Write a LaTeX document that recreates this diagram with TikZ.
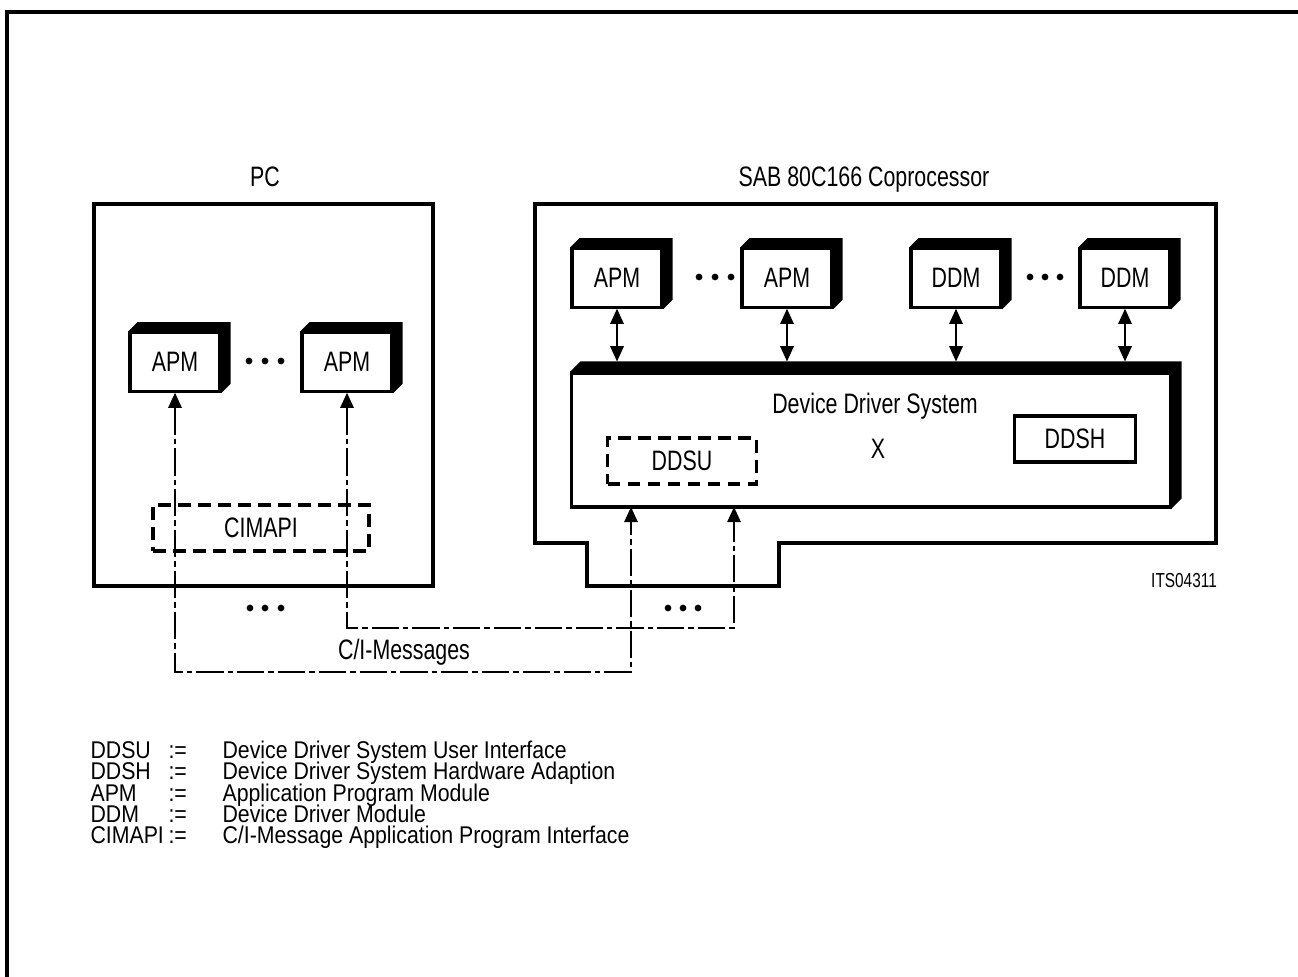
\documentclass[tikz,border=0pt]{standalone}
\usepackage{fontspec}
\setmainfont{Liberation Sans}[FakeStretch=0.76]
\newfontfamily\legendfont{Liberation Sans}[FakeStretch=0.88]
\usetikzlibrary{arrows.meta}

\begin{document}
\begin{tikzpicture}[x=0.0125cm, y=-0.0125cm,
    font=\fontsize{10}{12}\selectfont,
    thickline/.style={line width=1.1pt},
    module/.style={draw, line width=1.1pt, fill=white, inner sep=0pt,
      minimum width=1.125cm, minimum height=0.73cm},
    ifbox/.style={draw, line width=1.3pt, dash pattern=on 0.16cm off 0.09cm,
      inner sep=0pt, minimum height=0.575cm},
    tip/.style={{Triangle[length=0.19cm,width=0.17cm]}-{Triangle[length=0.19cm,width=0.17cm]}},
    link/.style={line width=0.45pt, tip},
    msg/.style={line width=0.45pt, tip,
      dash pattern=on 0.34cm off 0.05cm on 0.07cm off 0.05cm},
    legend/.style={anchor=base west, inner sep=0pt,
      font=\legendfont\fontsize{8.6}{10}\selectfont}]
    \useasboundingbox (0,0) rectangle (1298,977);
    % Rahmen (nur oben und links)
    \draw[thickline] (7,977) -- (7,12) -- (1298,12);

    % PC
    \node[anchor=base] (pctitle) at (265,187) {PC};
    \draw[thickline] (94,204) rectangle (433,586);
    \node[module] (apmA) at (175,362) {APM};
    \node[module] (apmB) at (347,362) {APM};
    \foreach \x in {249,265,281} \fill (\x,361) circle (0.042cm);

    % Coprozessor
    \node[anchor=base] (coptitle) at (864,187) {SAB 80C166 Coprocessor};
    \draw[thickline] (535,204) -- (1216,204) -- (1216,543) -- (779,543)
      -- (779,586) -- (587,586) -- (587,543) -- (535,543) -- cycle;
    \node[module] (capmA) at (617,278) {APM};
    \node[module] (capmB) at (787,278) {APM};
    \node[module] (ddmA) at (956,278) {DDM};
    \node[module] (ddmB) at (1125,278) {DDM};
    \foreach \x in {699,715,731,1030,1045,1060} \fill (\x,277) circle (0.042cm);

    % 3D-Kanten der Module
    \foreach \n in {apmA,apmB,capmA,capmB,ddmA,ddmB}
      \fill (\n.north west) -- ++(9,-9) -- ([shift={(9,-9)}]\n.north east)
        -- ([shift={(9,-9)}]\n.south east) -- (\n.south east)
        -- (\n.north east) -- cycle;

    % Device Driver System
    \node[draw, thickline, minimum width=7.475cm, minimum height=1.675cm]
      (dds) at (871,440) {};
    \fill (dds.north west) -- ++(10,-10) -- ([shift={(10,-10)}]dds.north east)
      -- ([shift={(10,-10)}]dds.south east) -- (dds.south east)
      -- (dds.north east) -- cycle;
    \path (dds.north) ++(0,-10) coordinate (ddsT);
    \node[anchor=base] (ddstitle) at (875,414) {Device Driver System};
    \node[anchor=base] (x) at (878,459) {X};
    \node[draw, thickline, minimum width=1.51cm, minimum height=0.575cm]
      (ddsh) at (1075,439) {DDSH};
    \node[ifbox, minimum width=1.86cm] (ddsu) at (682,461) {DDSU};

    % Verbindungen Module -- DDS
    \foreach \n in {capmA,capmB,ddmA,ddmB}
      \draw[link] (\n.south) -- (\n.south |- ddsT);

    % C/I-Messages
    \coordinate (inA) at (631,507);
    \coordinate (inB) at (734,507);
    \coordinate (lowA) at (0,672);
    \coordinate (lowB) at (0,628);
    \draw[msg] (apmA.south) -- (apmA.south |- lowA) -| (inA);
    \draw[msg] (apmB.south) -- (apmB.south |- lowB) -| (inB);
    \node[ifbox, minimum width=2.7cm] (cimapi) at (261,528) {CIMAPI};
    \foreach \x in {250,265,281,668,683,698} \fill (\x,608) circle (0.042cm);
    \node[anchor=base] (cimsg) at (404,660) {C/I-Messages};
    \node[font=\fontsize{7.2}{8}\selectfont] (its) at (1184,581) {ITS04311};

    % Legende
    \foreach \ab/\tx [count=\k] in {DDSU/Device Driver System User Interface,
        DDSH/Device Driver System Hardware Adaption,
        APM/Application Program Module,
        DDM/Device Driver Module,
        CIMAPI/{C/I-Message Application Program Interface}} {
      \node[legend] (ab\k) at (90,738+21*\k) {\ab};
      \node[legend] (eq\k) at (168,738+21*\k) {:=};
      \node[legend] (tx\k) at (222,738+21*\k) {\tx};
    }
\end{tikzpicture}
\end{document}
